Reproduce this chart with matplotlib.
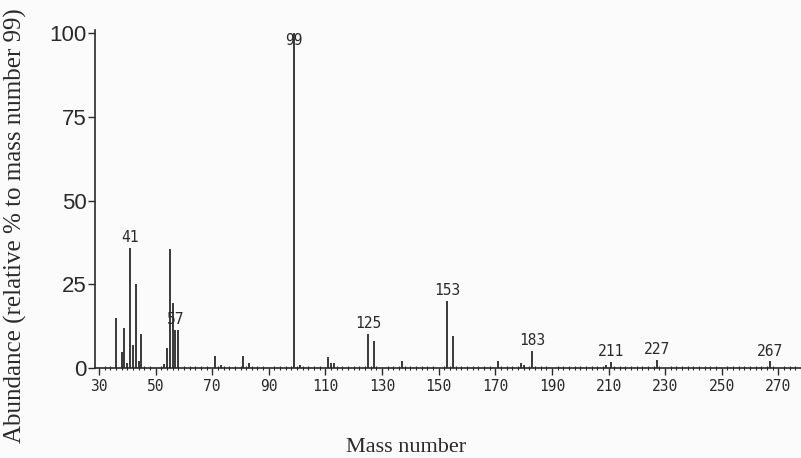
import numpy as np
import matplotlib.pyplot as plt
from matplotlib.ticker import MultipleLocator

# mass spectrum peaks (m/z, relative abundance % to m/z 99)
masses = [36, 38, 39, 40, 41, 42, 43, 44, 45, 53, 54, 55, 56, 57, 58,
          71, 73, 81, 83, 99, 101, 111, 112, 113, 125, 127, 137,
          153, 155, 171, 179, 180, 183, 209, 211, 227, 267]
abundance = [15, 4.9, 12, 1.5, 35.8, 7, 25, 2, 10.3, 1.2, 6, 35.6, 19.5, 11.5, 11.5,
             3.5, 1, 3.5, 1.5, 100, 1, 3.3, 1.5, 1.5, 10.3, 8, 2,
             20, 9.5, 2, 1.5, 1, 5, 1, 1.8, 2.5, 2]
labelled = [41, 57, 99, 125, 153, 183, 211, 227, 267]

xticks = np.arange(30, 271, 20)
yticks = [0, 25, 50, 75, 100]

bg = '#fcfbfb'
ink = '#2a2a2a'

fig = plt.figure(figsize=(8.01, 4.58), dpi=100, facecolor=bg)
ax = fig.add_axes([0.1186, 0.1965, 0.8814, 0.738])
ax.set_facecolor(bg)

ax.vlines(masses, 0, abundance, color=ink, linewidth=1.3)

mono = dict(family='DejaVu Sans Mono', fontsize=10.5, color=ink)
for m in labelled:
    h = abundance[masses.index(m)]
    if m == 99:
        ax.text(m, 98, str(m), ha='center', va='center', **mono)
    else:
        ax.annotate(str(m), (m, h), xytext=(0, 2), textcoords='offset points',
                    ha='center', va='bottom', **mono)

ax.set_xlim(28.6, 278)
ax.set_ylim(0, 101)

for s in ['top', 'right']:
    ax.spines[s].set_visible(False)
for s in ['left', 'bottom']:
    ax.spines[s].set_color(ink)
    ax.spines[s].set_linewidth(1.2)

ax.set_xticks(xticks)
ax.set_xticklabels([str(t) for t in xticks], **mono)
ax.xaxis.set_minor_locator(MultipleLocator(2))
ax.tick_params(axis='x', which='major', direction='out', length=5, width=1, color=ink, pad=3)
ax.tick_params(axis='x', which='minor', direction='inout', length=3, width=0.8, color=ink)

ax.set_yticks(yticks)
ax.set_yticklabels([str(t) for t in yticks], family='Liberation Sans', fontsize=16, color=ink)
ax.tick_params(axis='y', direction='out', length=5, width=1, color=ink, pad=1)

fig.text(406 / 801, 1 - 447 / 458, 'Mass number', ha='center', va='center',
         family='Liberation Serif', fontsize=16, color=ink)
fig.text(15 / 801, 1 - 226 / 458, 'Abundance (relative % to mass number 99)',
         ha='center', va='center', rotation=90,
         family='Liberation Serif', fontsize=18, color=ink)

fig.savefig('out.png', dpi=100, facecolor=bg)
